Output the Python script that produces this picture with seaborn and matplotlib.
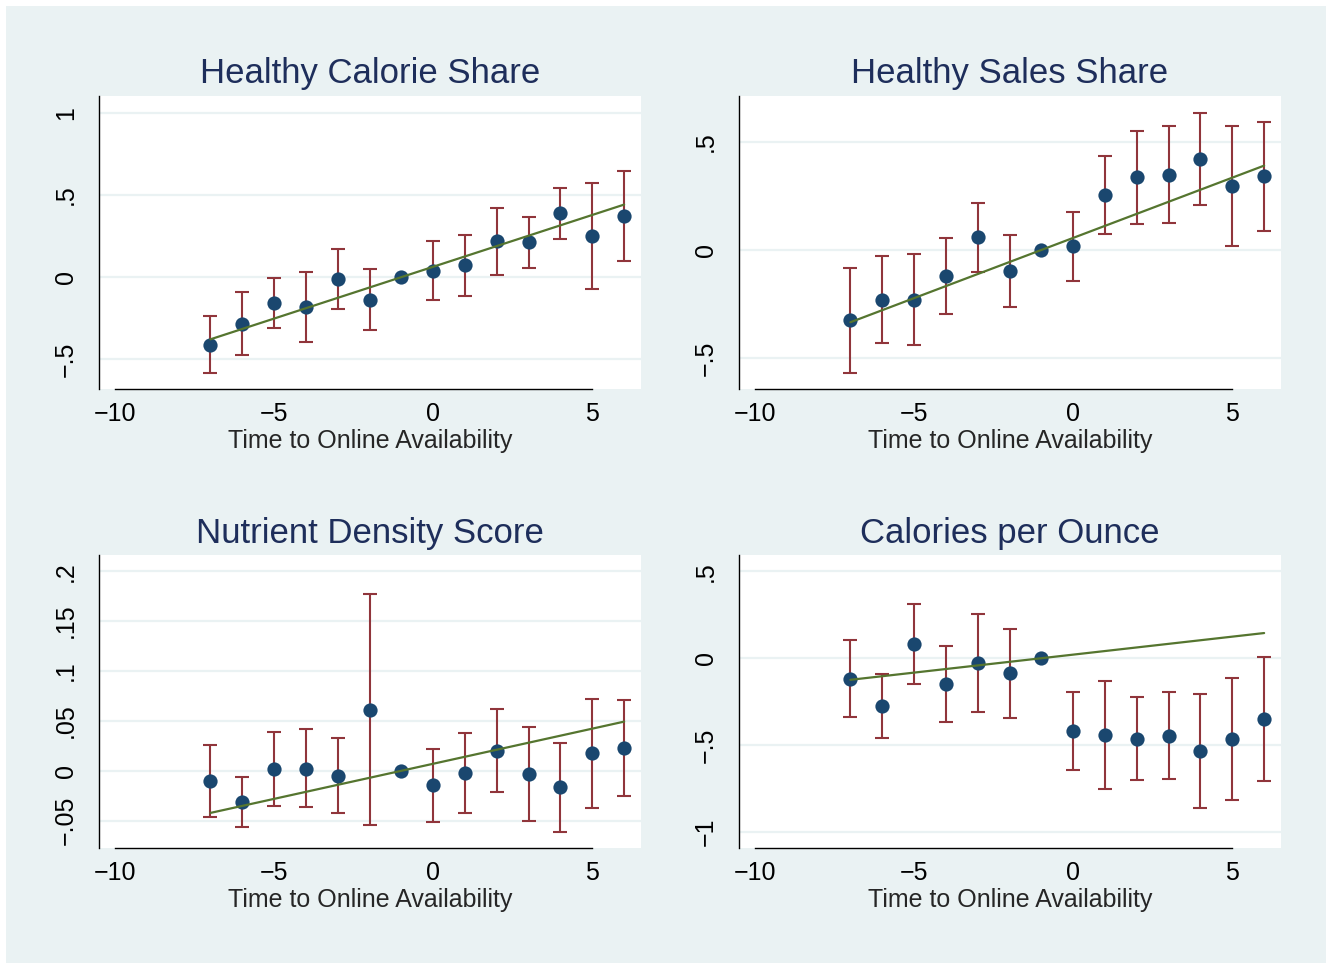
import numpy as np
import matplotlib
matplotlib.use("Agg")
import matplotlib.pyplot as plt
import seaborn as sns
from matplotlib.patches import Rectangle

# ---------------- data ----------------
event_time = [-7, -6, -5, -4, -3, -2, -1, 0, 1, 2, 3, 4, 5, 6]

titles = ["Healthy Calorie Share", "Healthy Sales Share",
          "Nutrient Density Score", "Calories per Ounce"]
x_label = "Time to Online Availability"

cal_share_est = [-0.411, -0.285, -0.158, -0.184, -0.010, -0.138, 0.0,
                 0.038, 0.071, 0.217, 0.211, 0.387, 0.249, 0.372]
cal_share_lo = [-0.581, -0.476, -0.308, -0.393, -0.192, -0.320, np.nan,
                -0.140, -0.113, 0.012, 0.055, 0.231, -0.075, 0.101]
cal_share_hi = [-0.237, -0.093, -0.008, 0.032, 0.174, 0.047, np.nan,
                0.219, 0.255, 0.423, 0.366, 0.543, 0.573, 0.648]

sales_share_est = [-0.325, -0.230, -0.230, -0.120, 0.060, -0.099, 0.0,
                   0.017, 0.256, 0.336, 0.345, 0.421, 0.294, 0.341]
sales_share_lo = [-0.570, -0.433, -0.438, -0.296, -0.100, -0.265, np.nan,
                  -0.145, 0.076, 0.120, 0.123, 0.208, 0.017, 0.088]
sales_share_hi = [-0.083, -0.026, -0.020, 0.057, 0.217, 0.071, np.nan,
                  0.177, 0.435, 0.553, 0.572, 0.636, 0.575, 0.593]

nutrient_est = [-0.0103, -0.0317, 0.0017, 0.0020, -0.0050, 0.0611, 0.0,
                -0.0147, -0.0020, 0.0197, -0.0033, -0.0167, 0.0177, 0.0230]
nutrient_lo = [-0.0464, -0.0561, -0.0354, -0.0367, -0.0424, -0.0544, np.nan,
               -0.0511, -0.0424, -0.0217, -0.0501, -0.0614, -0.0374, -0.0250]
nutrient_hi = [0.0257, -0.0063, 0.0384, 0.0414, 0.0327, 0.1772, np.nan,
               0.0217, 0.0381, 0.0617, 0.0437, 0.0280, 0.0724, 0.0708]

cal_oz_est = [-0.117, -0.274, 0.079, -0.148, -0.027, -0.086, 0.0,
              -0.418, -0.441, -0.464, -0.445, -0.534, -0.466, -0.351]
cal_oz_lo = [-0.340, -0.457, -0.148, -0.367, -0.309, -0.342, np.nan,
             -0.641, -0.750, -0.702, -0.693, -0.862, -0.814, -0.704]
cal_oz_hi = [0.107, -0.092, 0.311, 0.073, 0.257, 0.167, np.nan,
             -0.192, -0.131, -0.221, -0.196, -0.203, -0.115, 0.006]

# pre-trend slopes (line through the reference period t = -1)
trend_slopes = [0.0630, 0.0558, 0.00704, 0.0207]
reference_period = -1

x_ticks = [-10, -5, 0, 5]
x_tick_labels = ["\u221210", "\u22125", "0", "5"]

y_ticks_1 = [-0.5, 0, 0.5, 1]
y_labels_1 = ["\u2212.5", "0", ".5", "1"]
y_ticks_2 = [-0.5, 0, 0.5]
y_labels_2 = ["\u2212.5", "0", ".5"]
y_ticks_3 = [-0.05, 0, 0.05, 0.1, 0.15, 0.2]
y_labels_3 = ["\u2212.05", "0", ".05", ".1", ".15", ".2"]
y_ticks_4 = [-1, -0.5, 0, 0.5]
y_labels_4 = ["\u22121", "\u2212.5", "0", ".5"]

# ---------------- style ----------------
sns.set_style("white")
plt.rcParams["font.family"] = ["Liberation Sans", "DejaVu Sans"]

BG = "#EAF2F3"
NAVY = "#1A476F"
MAROON = "#90353B"
GREEN = "#55752F"
TITLE_C = "#1E2E5B"

W, H = 1332, 963
fig = plt.figure(figsize=(W / 100, H / 100), dpi=100, facecolor="white")
fig.patches.append(Rectangle((6 / W, 0), (W - 12) / W, 957 / H,
                             transform=fig.transFigure, facecolor=BG,
                             edgecolor="none", zorder=-10))

panels = [
    dict(est=cal_share_est, lo=cal_share_lo, hi=cal_share_hi,
         yt=y_ticks_1, yl=y_labels_1, ylim=(-0.680, 1.101),
         pos=(99, 96)),
    dict(est=sales_share_est, lo=sales_share_lo, hi=sales_share_hi,
         yt=y_ticks_2, yl=y_labels_2, ylim=(-0.644, 0.713),
         pos=(739, 96)),
    dict(est=nutrient_est, lo=nutrient_lo, hi=nutrient_hi,
         yt=y_ticks_3, yl=y_labels_3, ylim=(-0.0774, 0.2163),
         pos=(99, 555)),
    dict(est=cal_oz_est, lo=cal_oz_lo, hi=cal_oz_hi,
         yt=y_ticks_4, yl=y_labels_4, ylim=(-1.092, 0.594),
         pos=(739, 555)),
]

aw, ah = 542, 293
for i, p in enumerate(panels):
    left, top = p["pos"]
    ax = fig.add_axes([left / W, 1 - (top + ah) / H, aw / W, ah / H])
    ax.set_facecolor("white")

    x = np.array(event_time, dtype=float)
    est = np.array(p["est"])
    lo = np.array(p["lo"])
    hi = np.array(p["hi"])
    m = ~np.isnan(lo)

    ax.errorbar(x[m], est[m], yerr=[est[m] - lo[m], hi[m] - est[m]],
                fmt="none", ecolor=MAROON, elinewidth=1.5, capsize=4.8,
                capthick=1.5, zorder=2)
    sns.scatterplot(x=x, y=est, ax=ax, color=NAVY, s=105, linewidth=0,
                    zorder=3, legend=False)
    fit_y = [trend_slopes[i] * (t - reference_period) for t in event_time]
    sns.lineplot(x=x, y=fit_y, ax=ax, color=GREEN, linewidth=1.6,
                 zorder=4, legend=False)

    ax.set_xlim(-10.5, 6.53)
    ax.set_ylim(*p["ylim"])
    ax.set_xticks(x_ticks)
    ax.set_xticklabels(x_tick_labels, fontsize=18)
    ax.set_yticks(p["yt"])
    ax.set_yticklabels(p["yl"], fontsize=18, rotation=90, va="center")
    ax.yaxis.grid(True, color=BG, linewidth=1.6)
    ax.xaxis.grid(False)
    ax.set_axisbelow(True)

    for s in ["top", "right"]:
        ax.spines[s].set_visible(False)
    ax.spines["left"].set_color("black")
    ax.spines["bottom"].set_color("black")
    ax.spines["left"].set_linewidth(1.0)
    ax.spines["bottom"].set_linewidth(1.0)
    ax.spines["bottom"].set_bounds(-10, 5)

    ax.tick_params(axis="x", direction="out", length=6.5, width=1.0,
                   pad=3, colors="black")
    ax.tick_params(axis="y", direction="out", length=7, width=1.0,
                   pad=8, colors="black")
    ax.set_xlabel(x_label, fontsize=18, labelpad=2)
    ax.set_ylabel("")
    ax.set_title(titles[i], fontsize=25, color=TITLE_C, pad=9)

fig.savefig("out.png", dpi=100, facecolor="white")
